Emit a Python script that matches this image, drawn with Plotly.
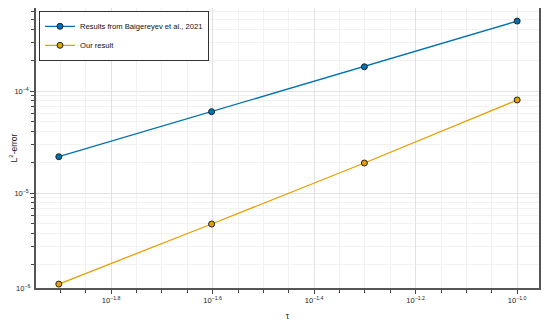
import numpy as np
import plotly.graph_objects as go

tau = [1/80, 1/40, 1/20, 1/10]
err_baig = [2.27e-5, 6.27e-5, 1.73e-4, 4.85e-4]
err_ours = [1.28e-6, 4.97e-6, 1.97e-5, 8.17e-5]
series_names = ["Results from Baigereyev et al., 2021", "Our result"]
series_colors = ["#0072B2", "#E69F00"]

x_tick_exps = [-1.8, -1.6, -1.4, -1.2, -1.0]
y_tick_exps = [-4, -5]

FONT = "Liberation Sans, Arial, sans-serif"

fig = go.Figure()
for name, vals, col in zip(series_names, [err_baig, err_ours], series_colors):
    fig.add_trace(go.Scatter(
        x=tau, y=vals, name=name, mode="lines+markers",
        line=dict(color=col, width=1.3),
        marker=dict(color=col, size=6, line=dict(color="#222222", width=1)),
    ))

x_minor = []
for e in np.arange(-2.0, -0.9, 0.05):
    if all(abs(e - m) > 1e-6 for m in x_tick_exps):
        x_minor.append(10 ** e)
y_minor = [m * 10.0 ** k for k in [-7, -6, -5, -4, -3] for m in range(2, 10)]

fig.update_layout(
    width=550, height=327,
    margin=dict(l=28, r=19, t=0, b=47, autoexpand=False),
    paper_bgcolor="white", plot_bgcolor="white",
    font=dict(family=FONT, size=8, color="#222222"),
    showlegend=True,
    legend=dict(
        x=0.006, y=0.99, xanchor="left", yanchor="top",
        bgcolor="white", bordercolor="#333333", borderwidth=1,
        font=dict(size=7.6, family=FONT, color="#111111"),
        tracegroupgap=0, itemwidth=30,
    ),
    xaxis=dict(
        type="log", range=[-1.948, -0.957],
        tickvals=[10 ** e for e in x_tick_exps],
        ticktext=[f"10<sup>{e:.1f}</sup>".replace("-", "−") for e in x_tick_exps],
        tickfont=dict(size=7.5),
        ticks="outside", ticklen=4, tickcolor="#444444",
        showline=True, linecolor="#555555", linewidth=1.5, mirror=True,
        showgrid=True, gridcolor="#e2e2e2", gridwidth=1,
        zeroline=False,
        minor=dict(tickvals=x_minor, ticks="outside", ticklen=3, tickcolor="#444444",
                   showgrid=True, gridcolor="#f2f2f2", gridwidth=1),
        title=dict(text="τ", font=dict(size=8.5), standoff=9),
    ),
    yaxis=dict(
        type="log", range=[-5.931, -3.186],
        tickvals=[10.0 ** e for e in y_tick_exps],
        ticktext=[f"10<sup>{e}</sup>".replace("-", "−") for e in y_tick_exps],
        tickfont=dict(size=7.5),
        ticks="outside", ticklen=4, tickcolor="#444444",
        showline=True, linecolor="#555555", linewidth=1.5, mirror=True,
        showgrid=True, gridcolor="#e2e2e2", gridwidth=1,
        zeroline=False,
        minor=dict(tickvals=y_minor, ticks="outside", ticklen=3, tickcolor="#444444",
                   showgrid=True, gridcolor="#f2f2f2", gridwidth=1),
        title=dict(text="L<sup>2</sup>-error", font=dict(size=8.5), standoff=2),
    ),
)

fig.add_annotation(
    xref="paper", yref="paper", x=0, y=0, xshift=-4,
    xanchor="right", yanchor="middle",
    text="10<sup>−6</sup>", showarrow=False, font=dict(size=7.5, family=FONT),
)

fig.write_html("out.html")
